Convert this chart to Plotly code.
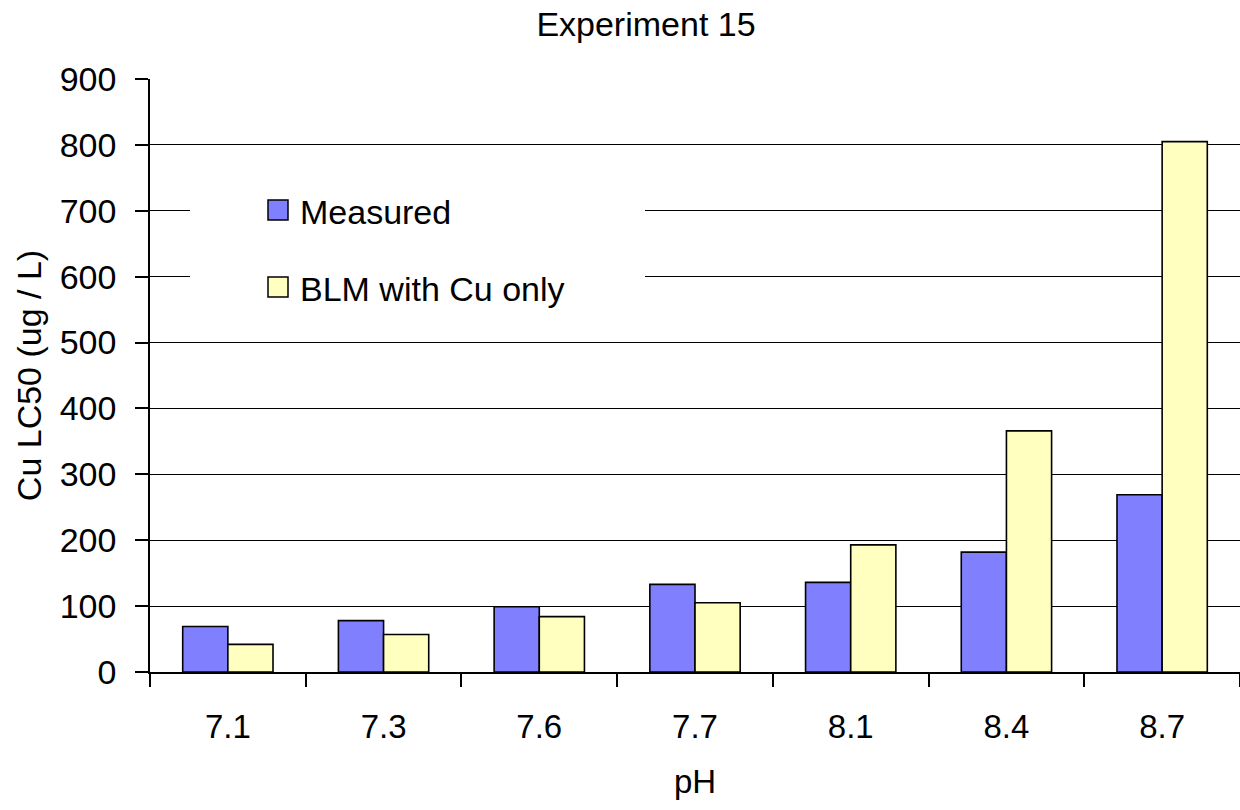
import plotly.graph_objects as go

categories = ["7.1", "7.3", "7.6", "7.7", "8.1", "8.4", "8.7"]
measured = [69, 78, 99, 133, 136, 182, 269]
blm_cu_only = [42, 57, 84, 105, 193, 366, 805]
series_names = ["Measured", "BLM with Cu only"]
series_colors = ["#8080FF", "#FFFFC0"]
y_ticks = [0, 100, 200, 300, 400, 500, 600, 700, 800, 900]

FONT = "Liberation Sans, Arial, sans-serif"

fig = go.Figure()
for name, vals, col in zip(series_names, [measured, blm_cu_only], series_colors):
    fig.add_trace(go.Bar(
        x=categories, y=vals, name=name, showlegend=False,
        marker=dict(color=col, line=dict(color="black", width=1.6)),
    ))

# plot area geometry (pixels) for the manual legend
L, R, T, B = 150, 1240, 79, 672
W, H = R - L, B - T
def px(x):
    return (x - L) / W
def py(y):
    return (B - y) / H

shapes = [dict(type="rect", xref="paper", yref="paper", layer="above",
               x0=px(190), x1=px(645), y0=py(330), y1=py(160),
               fillcolor="white", line=dict(width=0))]
annotations = []
legend_rows = [210, 287]
for name, col, yc in zip(series_names, series_colors, legend_rows):
    shapes.append(dict(type="rect", xref="paper", yref="paper", layer="above",
                       x0=px(268), x1=px(288), y0=py(yc + 10), y1=py(yc - 10),
                       fillcolor=col, line=dict(color="black", width=1.5)))
    annotations.append(dict(text=name, xref="paper", yref="paper",
                            x=px(298), y=py(yc + 2), xanchor="left", yanchor="middle",
                            showarrow=False, font=dict(family=FONT, size=34, color="black")))

fig.update_layout(
    width=1240, height=810,
    margin=dict(l=L, r=1240 - R, t=T, b=810 - B),
    paper_bgcolor="white", plot_bgcolor="white",
    barmode="group", bargap=0.42, bargroupgap=0,
    title=dict(text="Experiment 15", x=646 / 1240, xanchor="center", xref="container",
               y=1 - 24 / 810, yref="container", yanchor="middle",
               font=dict(family=FONT, size=34, color="black")),
    font=dict(family=FONT, size=34, color="black"),
    shapes=shapes, annotations=annotations,
    xaxis=dict(
        type="category", tickson="boundaries", ticks="outside", ticklen=13,
        tickwidth=1.5, tickcolor="black", showline=True, linecolor="black",
        linewidth=1.5, showgrid=False, ticklabelstandoff=25,
        tickfont=dict(family=FONT, size=33, color="black"),
        title=dict(text="pH", standoff=26, font=dict(family=FONT, size=33, color="black")),
    ),
    yaxis=dict(
        range=[0, 900], tickvals=y_ticks, ticks="outside", ticklen=13,
        tickwidth=1.5, tickcolor="black", showline=True, linecolor="black",
        linewidth=1.5, showgrid=True, gridcolor="black", gridwidth=1.4,
        zeroline=False, ticklabelstandoff=12,
        tickfont=dict(family=FONT, size=34, color="black"),
        title=dict(text="Cu LC50 (ug / L)", standoff=8,
                   font=dict(family=FONT, size=34, color="black")),
    ),
)

fig.write_html("out.html")
